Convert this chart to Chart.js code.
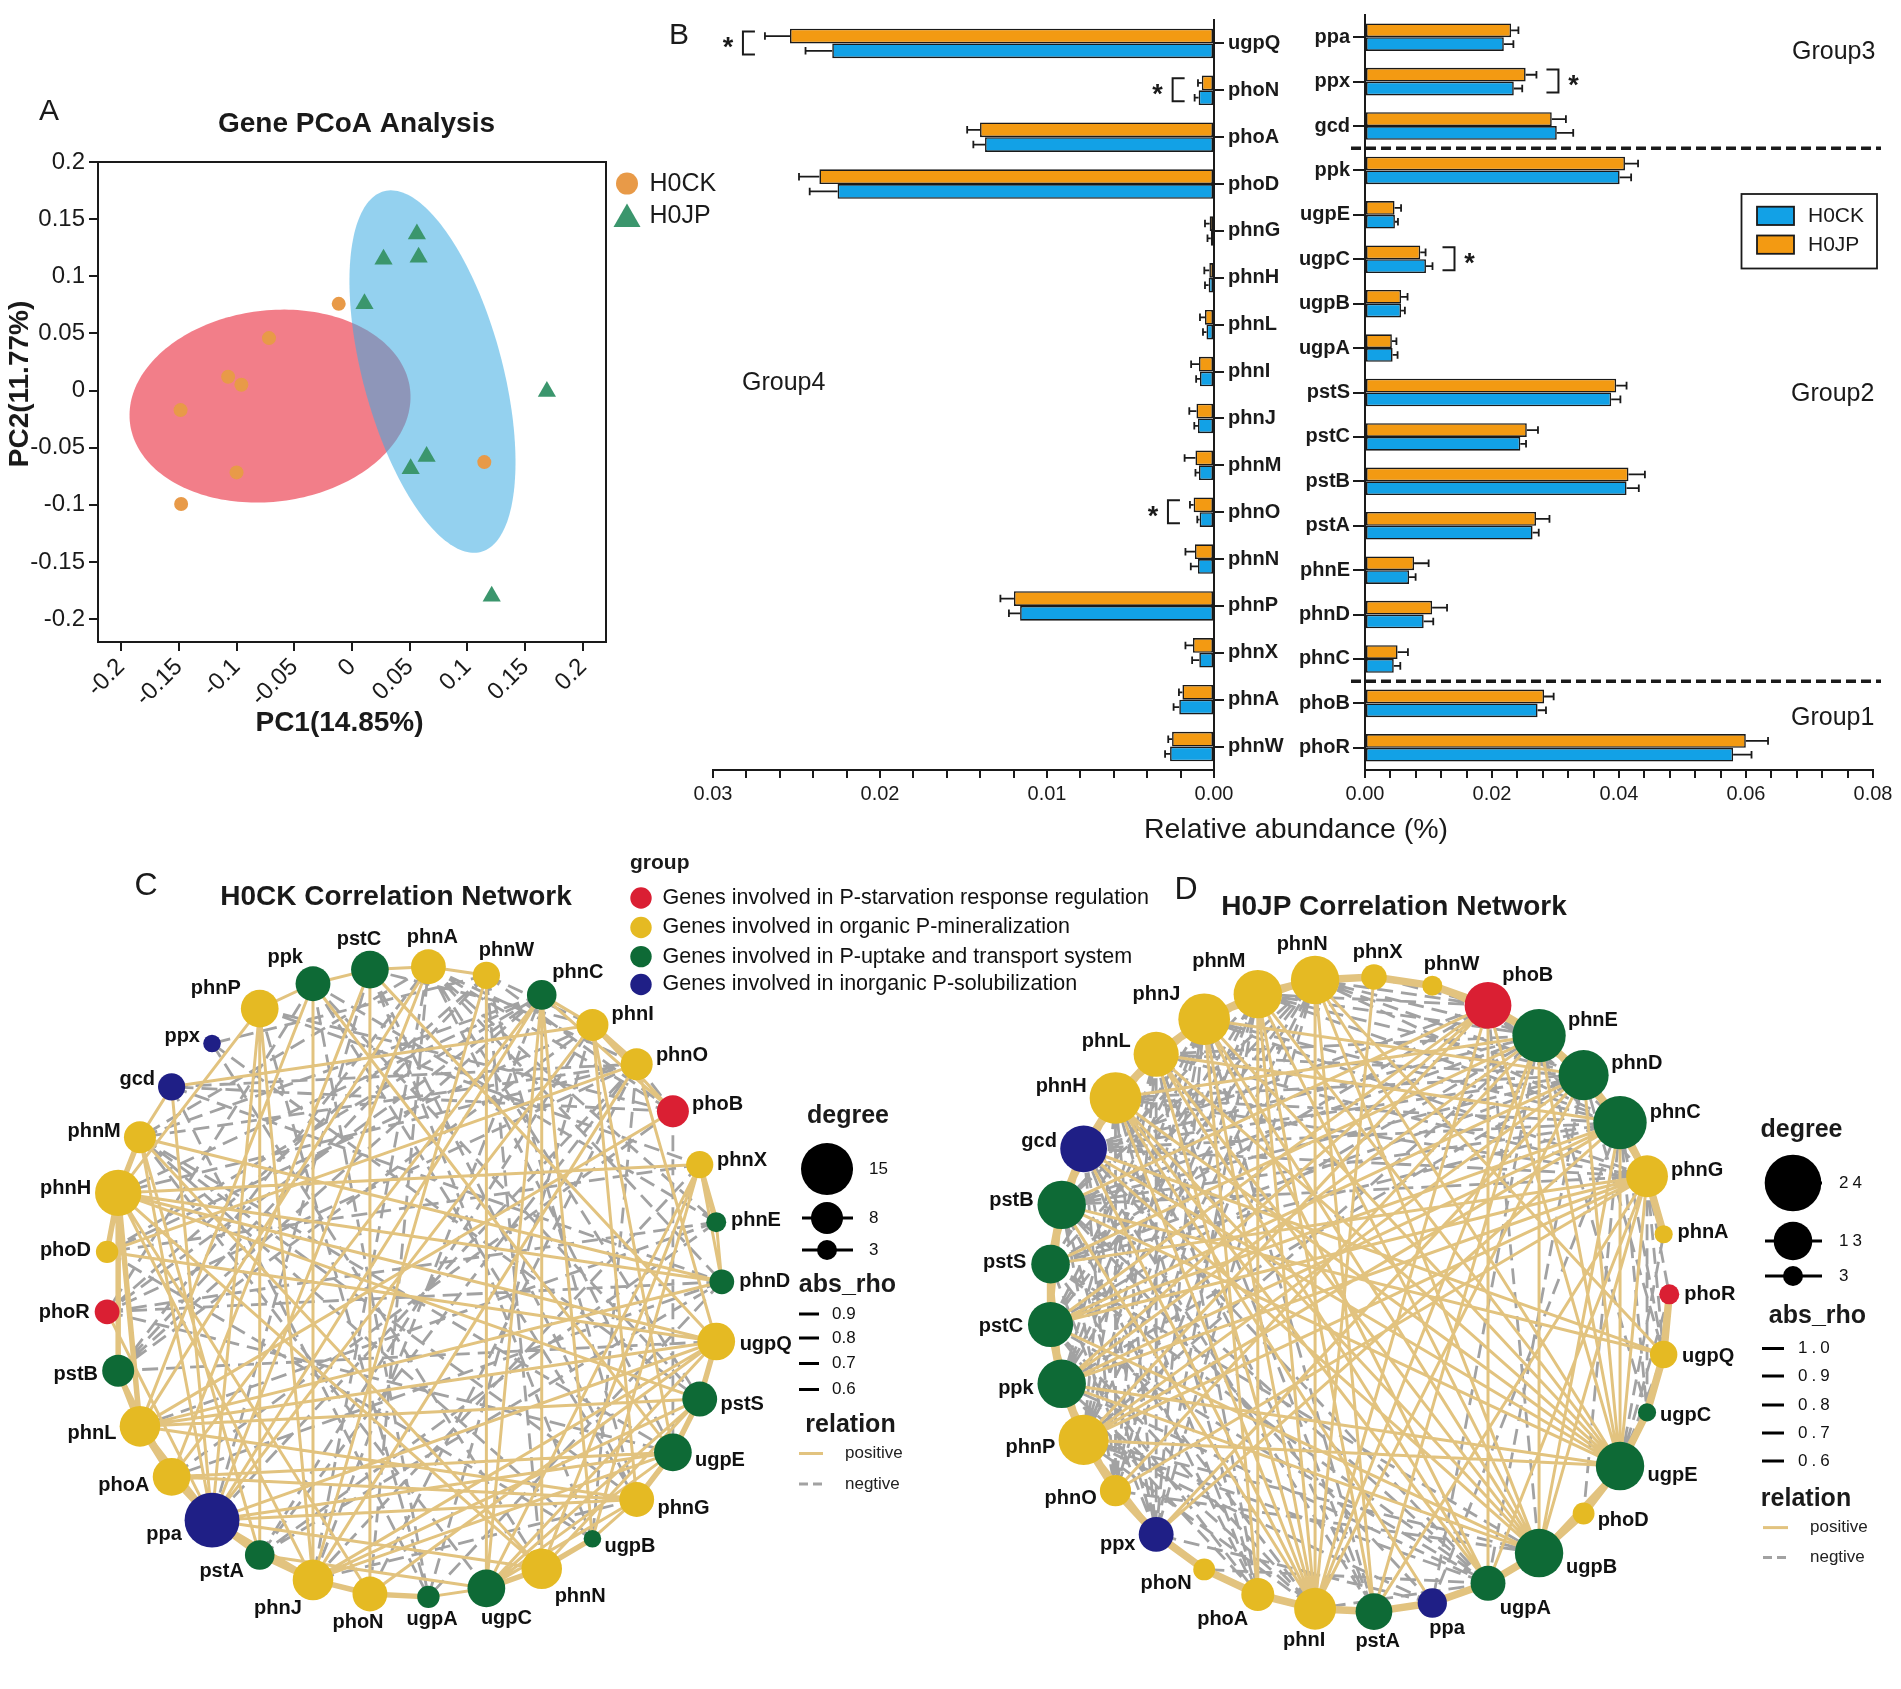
<!DOCTYPE html>
<html><head><meta charset="utf-8">
<script src="https://cdn.jsdelivr.net/npm/chart.js@4.4.1/dist/chart.umd.min.js"></script>
<style>
html,body{margin:0;padding:0;background:#fff;}
#wrap{position:relative;width:1901px;height:1689px;overflow:hidden;background:#fff;}
.layer{position:absolute;left:0;top:0;width:1901px;height:1689px;}
canvas{display:block;}
</style></head><body><div id="wrap">
<div class="layer"><canvas id="cA" width="1901" height="1689"></canvas></div>
<div class="layer"><canvas id="cBL" width="1901" height="1689"></canvas></div>
<div class="layer"><canvas id="cBR" width="1901" height="1689"></canvas></div>
<div class="layer"><canvas id="cC" width="1901" height="1689"></canvas></div>
<div class="layer"><canvas id="cD" width="1901" height="1689"></canvas></div>
</div>
<script>
// ================= DATA =================
// Panel A: PCoA
const pcoaGroups = ['H0CK', 'H0JP'];
const pcoaCkX = [-0.0115, -0.0719, -0.1073, -0.0958, -0.1485, -0.1000, -0.1480, 0.1146];
const pcoaCkY = [0.0759, 0.0459, 0.0121, 0.0051, -0.0171, -0.0716, -0.0992, -0.0626];
const pcoaJpX = [0.0562, 0.0273, 0.0577, 0.0108, 0.1688, 0.0646, 0.0508, 0.1210];
const pcoaJpY = [0.1370, 0.1150, 0.1167, 0.0759, -0.0008, -0.0576, -0.0685, -0.1800];
const pcoaTickValues = [-0.2, -0.15, -0.1, -0.05, 0, 0.05, 0.1, 0.15, 0.2];
const pcoaTickLabels = ['-0.2', '-0.15', '-0.1', '-0.05', '0', '0.05', '0.1', '0.15', '0.2'];
const ellipseCenterX = [-0.0710, 0.0697];
const ellipseCenterY = [-0.0136, 0.0166];
const ellipseSemiMajor = [0.1222, 0.1633];
const ellipseSemiMinor = [0.0837, 0.0605];
const ellipseAngleDeg = [7.15, 104.85];

// Panel B: relative abundance (%)
const leftGenes = ['ugpQ','phoN','phoA','phoD','phnG','phnH','phnL','phnI','phnJ','phnM','phnO','phnN','phnP','phnX','phnA','phnW'];
const leftCK    = [0.02286,0.00092,0.01371,0.02254,0.00019,0.00032,0.00045,0.00084,0.00096,0.00090,0.00086,0.00096,0.01161,0.00088,0.00208,0.00263];
const leftCKerr = [0.00160,0.00024,0.00070,0.00167,0.00020,0.00022,0.00021,0.00023,0.00022,0.00021,0.00014,0.00043,0.00067,0.00043,0.00034,0.00030];
const leftJP    = [0.02539,0.00073,0.01401,0.02363,0.00026,0.00028,0.00054,0.00090,0.00105,0.00111,0.00122,0.00114,0.01198,0.00126,0.00189,0.00251];
const leftJPerr = [0.00150,0.00023,0.00077,0.00122,0.00028,0.00030,0.00030,0.00047,0.00043,0.00065,0.00022,0.00057,0.00081,0.00045,0.00021,0.00023];
const rightGenes = ['ppa','ppx','gcd','ppk','ugpE','ugpC','ugpB','ugpA','pstS','pstC','pstB','pstA','phnE','phnD','phnC','phoB','phoR'];
const rightCK    = [0.02186,0.02343,0.03020,0.04010,0.00471,0.00960,0.00568,0.00435,0.03877,0.02446,0.04119,0.02639,0.00694,0.00924,0.00453,0.02718,0.05797];
const rightCKerr = [0.00151,0.00133,0.00259,0.00181,0.00048,0.00103,0.00060,0.00078,0.00145,0.00090,0.00193,0.00097,0.00103,0.00151,0.00103,0.00132,0.00290];
const rightJP    = [0.02301,0.02530,0.02941,0.04094,0.00465,0.00870,0.00568,0.00423,0.03956,0.02548,0.04149,0.02693,0.00773,0.01057,0.00513,0.02820,0.05997];
const rightJPerr = [0.00115,0.00170,0.00223,0.00206,0.00103,0.00084,0.00102,0.00072,0.00163,0.00176,0.00259,0.00212,0.00229,0.00235,0.00163,0.00151,0.00350];
const leftSignificant = ['ugpQ','phoN','phnO'];
const rightSignificant = ['ppx','ugpC'];
const leftMajorTicks = [0, 0.01, 0.02, 0.03];
const leftTickLabels = ['0.00', '0.01', '0.02', '0.03'];
const rightMajorTicks = [0, 0.02, 0.04, 0.06, 0.08];
const rightTickLabels = ['0.00', '0.02', '0.04', '0.06', '0.08'];
const groupBoundaryAfter = ['gcd', 'phnC'];
const barGroupNames = ['Group1', 'Group2', 'Group3', 'Group4'];

// Panels C, D: correlation networks
const groupNames = ['Genes involved in P-starvation response regulation','Genes involved in organic P-mineralization','Genes involved in P-uptake and transport system','Genes involved in inorganic P-solubilization'];
const groupRegulation = ['phoB','phoR'];
const groupOrganic = ['phnA','phnG','phnH','phnI','phnJ','phnL','phnM','phnN','phnO','phnP','phnW','phnX','phoA','phoD','phoN','ugpQ'];
const groupTransport = ['pstA','pstB','pstC','pstS','ugpA','ugpB','ugpC','ugpE','phnC','phnD','phnE','ppk'];
const groupInorganic = ['ppa','ppx','gcd'];

const cNodes  = ['phnD','phnE','phnX','phoB','phnO','phnI','phnC','phnW','phnA','pstC','ppk','phnP','ppx','gcd','phnM','phnH','phoD','phoR','pstB','phnL','phoA','ppa','pstA','phnJ','phoN','ugpA','ugpC','phnN','ugpB','phnG','ugpE','pstS','ugpQ'];
const cDegree = [5,3,6,8,8,8,7,6,9,10,9,10,2,6,8,13,4,5,8,11,10,16,7,11,9,4,10,11,2,9,10,9,10];
const cEdgesStrong = ['phnM-phnH','phnH-phoD','pstB-phnL','phnL-phoA','phoA-ppa','ppa-pstA','pstA-phnJ','phnJ-phoN','phoN-ugpA','ugpC-phnN','phnN-ugpB','phnG-ugpE','ugpE-pstS','pstS-ugpQ','phnI-phnO','phnH-phnL','phnL-ppa','ppa-phnJ','phnX-phnE','phnH-pstB'];
const cEdgesPositive = ['phnE-phnD','ppk-pstC','pstC-phnA','phnA-phnW','phnC-phnI','phnP-ppk','gcd-phnM','ugpA-ugpC','ugpB-phnG','phnP-ppa','phnP-pstA','phnP-phnJ','phnP-phnH','ppk-phnJ','ppk-phnL','ppk-ugpE','pstC-phoN','pstC-phoA','pstC-ugpQ','phnA-phnL','phnA-ppa','phnW-ugpC','gcd-phnI','gcd-ppa','phnM-ppa','phnM-pstA','phnM-phnN','phnM-phnD','phnH-ugpQ','phnH-pstS','phnH-phnJ','phnH-phnN','phnH-phnX','phnH-phoN','phoD-ugpQ','phoD-phnO','phoR-ppa','pstB-phoA','phnL-ugpQ','phnL-pstS','phnL-phnG','phnL-phnD','phoA-ugpE','phoA-phnG','phoA-phnC','ppa-ugpE','ppa-phnG','ppa-ugpQ','ppa-phnN','ppa-phnI','ppa-phnC','pstA-ugpC','phnJ-ugpE','phnJ-pstS','phnJ-phnW','phoN-ugpQ','phnC-ugpC','phnC-phnN','phnC-ugpB','phnC-phoB','phnI-phnG','phnI-ugpE','phnI-phoB','phnO-phnJ','phnO-ugpQ','phoB-phnL','phnX-phnN','phnX-ugpC','phnX-ugpB','phnX-phnD','phnD-phnH','ugpQ-phnJ','pstS-phnN','ugpE-ugpC','phnG-ugpC','ugpQ-ugpC','pstS-ugpC'];
const cEdgesNegative = ['phnA-phnO','phnA-phoB','phnA-ugpE','phnA-pstS','phnA-phnE','phnA-phnD','phnA-phnM','phnA-phnJ','phnW-phoR','phnW-phnG','phnW-pstB','phnW-phoB','phnW-phnI','phnO-phoB','phnO-ppa','phnO-phnH','phnO-phoR','phnO-phnM','phnO-ugpB','phoB-ugpE','phoB-gcd','phoB-phoA','phnI-phoD','phnI-pstB','phnI-pstC','ppx-phnN','ppx-pstS','gcd-phnD','gcd-phnO','gcd-ugpA','phnM-phnG','phoD-ugpB','phoD-phnC','phoR-phnE','phoR-phnD','phoR-ugpE','pstB-phnA','pstB-ugpQ','pstC-ugpB','pstC-phnG','pstC-ppa','ppk-phoR','ppk-phnG','ppk-ugpA','phnP-phoB','phnP-phnX','phnP-ugpA','phnC-phnH','phnC-phoR','phnC-phnM','phnE-phnL','phnE-pstA','phnD-phoA','phnD-ugpA','phnX-phnJ','phnX-phoD','pstS-ppk','ugpE-phnM','phnG-phnJ','phoN-phnO','phoN-phnA','ugpA-phnI','phnN-phnW','ugpC-phnM','pstA-phnI','pstA-phnD','phnJ-phnC','ugpB-phnM','phnW-ppx','phnC-pstB','phnO-pstA','phnE-ppk'];

const dNodes  = ['phoR','phnA','phnG','phnC','phnD','phnE','phoB','phnW','phnX','phnN','phnM','phnJ','phnL','phnH','gcd','pstB','pstS','pstC','ppk','phnP','phnO','ppx','phoN','phoA','phnI','pstA','ppa','ugpA','ugpB','phoD','ugpE','ugpC','ugpQ'];
const dDegree = [3,2,15,22,20,22,18,3,6,19,19,21,17,21,18,19,13,17,19,20,9,11,4,10,15,12,8,11,19,4,19,2,7];
const dEdgesStrong = ['phnX-phnN','phnN-phnM','phnM-phnJ','phnJ-phnL','phnL-phnH','phnH-gcd','gcd-pstB','pstB-pstS','pstS-pstC','pstC-ppk','ppk-phnP','phnP-phnO','phnO-ppx','ppx-phoN','phoN-phoA','phoA-phnI','phnI-pstA','pstA-ppa','ppa-ugpA','ugpA-ugpB','ugpB-phoD','phoD-ugpE','ugpE-ugpC','phnG-phnC','phnC-phnD','phnD-phnE','phnE-phoB','phoB-phnW','phnW-phnX','phnA-phnG','ugpC-ugpQ','ugpQ-phoR'];
const dEdgesPositive = ['phnN-phnJ','phnM-phnL','phnJ-phnH','phnL-gcd','phnH-pstB','gcd-pstS','pstB-pstC','pstS-ppk','pstC-phnP','ppk-phnO','phnP-ppx','ugpE-ugpB','ugpB-ugpA','phnC-phnE','phnD-phoB','phnE-phnW','phnG-phnD','phnI-phnN','phnI-phnM','phnI-phnJ','phnI-phnL','phnI-phnH','phnI-gcd','phnI-phoB','phnI-phnE','phnI-phnD','phnI-phnX','phnI-pstB','ugpE-phnJ','ugpE-phnL','ugpE-phnH','ugpE-phnM','ugpE-phnN','ugpE-gcd','ugpE-pstB','ugpE-phnC','ugpE-phnD','ugpE-phnE','ugpE-phoB','ugpE-phnG','ugpE-ppk','ugpE-phnP','ugpB-phnJ','ugpB-phnL','ugpB-phnH','ugpB-phnM','ugpB-phnN','ugpB-phnC','ugpB-phnE','ugpB-phnG','ugpB-gcd','ugpB-pstC','ugpB-ppk','phnG-phnP','phnG-ppk','phnG-pstC','phnG-pstS','phnG-phnO','phnG-ugpA','phnG-pstA','phnC-ppk','phnC-phnP','phnC-pstC','phnC-ppx','phnE-pstS','phnE-ppk','phnE-phnO','phnD-pstC','phnD-phnP','phnD-ppx','phnE-pstA','phoB-pstB','phoB-pstC','phoB-ppk','phoB-phnP','phoB-ugpA','phnN-pstA','phnM-pstA','phnJ-ugpA','phnL-ugpA','phnH-ppa','gcd-ugpQ','pstB-ugpQ','phnN-ugpQ','phnM-phoA','phnJ-phoA','phnH-ugpA','phnL-phnC','phnH-phnE','phnJ-phnD'];
const dEdgesNegative = ['gcd-phnC','gcd-phnD','gcd-phnE','gcd-phnG','gcd-phoB','gcd-ugpA','gcd-pstA','gcd-phoA','gcd-ppx','gcd-phnO','pstB-phnC','pstB-phnD','pstB-phnE','pstB-phnG','pstB-ugpA','pstB-phnN','pstB-phnM','pstB-ppa','pstB-phnO','pstS-phnC','pstS-phnD','pstS-phoB','pstS-phnN','pstS-phnJ','pstS-ugpA','pstS-phnI','pstC-phnE','pstC-phnN','pstC-phnM','pstC-phnJ','pstC-ugpA','pstC-phnI','pstC-phoA','ppk-phnD','ppk-phnN','ppk-phnM','ppk-phnJ','ppk-phnL','ppk-phnI','ppk-ugpA','phnP-phnE','phnP-phnN','phnP-phnM','phnP-phnJ','phnP-phnL','phnP-phnH','phnP-ugpA','phnP-phnI','phnH-phnC','phnH-phnD','phnH-phnG','phnH-phoA','phnH-ppx','phnH-phnO','phnH-pstA','phnL-phnD','phnL-phnG','phnL-phoA','phnL-ppx','phnL-phnO','phnL-pstA','phnL-phnE','phnJ-phnC','phnJ-phnG','phnJ-ppx','phnJ-phnO','phnJ-pstA','phnM-phnC','phnM-phnD','phnM-phnE','phnM-ppx','phnM-phnO','phnN-phnC','phnN-phnD','phnN-phnE','phnN-phnO','phnN-ppx','phoB-phnC','phoB-ugpB','phoB-phnN','phoB-phnM','phoB-phnX','phoB-phnG','phnC-ugpC','phnC-ugpQ','phnC-phoD','phnC-ppa','phnD-ugpQ','phnD-ugpA','phnE-ugpC','phnE-ppa','phnG-ugpQ','phnG-ugpC','phnG-phoR','ugpE-ugpQ','ugpE-phoR','ugpE-phnA','ugpB-pstS','ugpB-phnP','ugpB-phnO','ugpA-phnI','ugpA-phoN','ppa-phnP','ppa-ppx','phoA-ppk','phoA-pstB','ppx-pstS','ppx-pstB'];
const cDegreeLegend = [15, 8, 3];
const dDegreeLegend = [24, 13, 3];
const cRhoLegend = ['0.9', '0.8', '0.7', '0.6'];
const dRhoLegend = ['1.0', '0.9', '0.8', '0.7', '0.6'];
const relationLabels = ['positive', 'negtive'];

// ================= STYLE =================
const FF = '"Liberation Sans", Arial, Helvetica, sans-serif';
Chart.defaults.font.family = FF;
Chart.defaults.color = '#1a1a1a';
const INK = '#1a1a1a';
const W = 1901, H = 1689;
const ORANGE = '#F39A12', BLUE = '#12A1E6';
const POS = '#E2C37F', NEG = '#A2A2A2';
const groupColors = ['#DA1F33', '#E5BA23', '#0E6A36', '#1F1F86'];
const groupLists = [groupRegulation, groupOrganic, groupTransport, groupInorganic];
const baseOpts = {responsive:false, animation:false, devicePixelRatio:1, events:[], plugins:{legend:{display:false}, tooltip:{enabled:false}}};

function txt(ctx, s, x, y, font, align, base, color){
  ctx.font = font; ctx.textAlign = align || 'left'; ctx.textBaseline = base || 'middle';
  ctx.fillStyle = color || INK; ctx.fillText(s, x, y);
}
function labelFor(values, labels){
  return function(v){ const i = values.findIndex(t => Math.abs(t - v) < 1e-9); return i >= 0 ? labels[i] : ''; };
}

// ================= PANEL A =================
(function(){
  const pA = {
    id:'pA',
    beforeDatasetsDraw(chart){
      const ctx = chart.ctx, xs = chart.scales.x, ys = chart.scales.y;
      const fills = ['rgba(232,32,52,0.58)', 'rgba(60,172,226,0.55)'];
      ctx.save();
      for (let e = 0; e < ellipseCenterX.length; e++){
        const phi = ellipseAngleDeg[e] * Math.PI / 180;
        ctx.beginPath();
        for (let k = 0; k <= 200; k++){
          const t = k / 200 * 2 * Math.PI;
          const dx = ellipseSemiMajor[e] * Math.cos(t), dy = ellipseSemiMinor[e] * Math.sin(t);
          const X = ellipseCenterX[e] + dx * Math.cos(phi) - dy * Math.sin(phi);
          const Y = ellipseCenterY[e] + dx * Math.sin(phi) + dy * Math.cos(phi);
          const px = xs.getPixelForValue(X), py = ys.getPixelForValue(Y);
          if (k) ctx.lineTo(px, py); else ctx.moveTo(px, py);
        }
        ctx.closePath(); ctx.fillStyle = fills[e]; ctx.fill();
      }
      ctx.restore();
    },
    afterDraw(chart){
      const ctx = chart.ctx, a = chart.chartArea;
      ctx.save();
      ctx.strokeStyle = INK; ctx.lineWidth = 2;
      ctx.strokeRect(a.left, a.top, a.right - a.left, a.bottom - a.top);
      txt(ctx, 'A', 39, 112, '30px ' + FF, 'left');
      txt(ctx, 'Gene PCoA Analysis', 356.5, 124.6, 'bold 28px ' + FF, 'center');
      txt(ctx, 'PC1(14.85%)', 339.5, 723, 'bold 28px ' + FF, 'center');
      ctx.save(); ctx.translate(20, 384); ctx.rotate(-Math.PI / 2);
      txt(ctx, 'PC2(11.77%)', 0, 0, 'bold 28px ' + FF, 'center'); ctx.restore();
      // legend
      ctx.fillStyle = '#E89A48'; ctx.beginPath(); ctx.arc(627, 183.6, 11, 0, 2 * Math.PI); ctx.fill();
      ctx.fillStyle = '#3B966D'; ctx.beginPath(); ctx.moveTo(627, 203.5); ctx.lineTo(640.5, 227); ctx.lineTo(613.5, 227); ctx.closePath(); ctx.fill();
      txt(ctx, pcoaGroups[0], 649.5, 184, '25px ' + FF, 'left');
      txt(ctx, pcoaGroups[1], 649.5, 216, '25px ' + FF, 'left');
      ctx.restore();
    }
  };
  const fmt = labelFor(pcoaTickValues, pcoaTickLabels);
  const axisCommon = {
    type:'linear',
    afterBuildTicks: s => { s.ticks = pcoaTickValues.map(v => ({value:v})); },
    grid:{drawOnChartArea:false, drawTicks:true, tickLength:9, color:INK, lineWidth:2},
    border:{display:true, color:INK, width:2}
  };
  new Chart(document.getElementById('cA'), {
    type:'scatter',
    data:{datasets:[
      {label:pcoaGroups[0], data:pcoaCkX.map((v,i)=>({x:v, y:pcoaCkY[i]})), pointStyle:'circle', pointRadius:7, backgroundColor:'#E89A48', pointBackgroundColor:'#E89A48', borderWidth:0, pointBorderWidth:0},
      {label:pcoaGroups[1], data:pcoaJpX.map((v,i)=>({x:v, y:pcoaJpY[i]})), pointStyle:'triangle', pointRadius:10.5, backgroundColor:'#3B966D', pointBackgroundColor:'#3B966D', borderWidth:0, pointBorderWidth:0}
    ]},
    options:Object.assign({}, baseOpts, {
      layout:{padding:{left:0, top:162, right:W - 606, bottom:H - 642 - 75}},
      scales:{
        x:Object.assign({}, axisCommon, {min:-0.22, max:0.22, afterFit: s => { s.height = 75; },
          ticks:{font:{size:24}, color:INK, minRotation:45, maxRotation:45, padding:2, autoSkip:false, callback:fmt}}),
        y:Object.assign({}, axisCommon, {min:-0.22, max:0.2, afterFit: s => { s.width = 98; },
          ticks:{font:{size:24}, color:INK, padding:4, autoSkip:false, callback:fmt}})
      }
    }),
    plugins:[pA]
  });
})();

// ================= PANEL B =================
function barDecor(id, errs, sig, dir){
  return {
    id:id,
    afterDatasetsDraw(chart){
      const ctx = chart.ctx, xs = chart.scales.x;
      ctx.save(); ctx.strokeStyle = INK; ctx.lineWidth = 1.8;
      chart.data.datasets.forEach((ds, di) => {
        chart.getDatasetMeta(di).data.forEach((bar, i) => {
          const x1 = xs.getPixelForValue(ds.data[i] + errs[di][i]);
          ctx.beginPath(); ctx.moveTo(bar.x, bar.y); ctx.lineTo(x1, bar.y);
          ctx.moveTo(x1, bar.y - 3.8); ctx.lineTo(x1, bar.y + 3.8); ctx.stroke();
        });
      });
      const labels = chart.data.labels;
      sig.forEach(g => {
        const i = labels.indexOf(g); if (i < 0) return;
        let ext = dir < 0 ? Infinity : -Infinity;
        chart.data.datasets.forEach((ds, di) => {
          const p = xs.getPixelForValue(ds.data[i] + errs[di][i]);
          ext = dir < 0 ? Math.min(ext, p) : Math.max(ext, p);
        });
        const y0 = chart.getDatasetMeta(0).data[i].y, y1 = chart.getDatasetMeta(1).data[i].y;
        const yc = (y0 + y1) / 2, yt = yc - 12, yb = yc + 11;
        const xa = ext + dir * 10, xv = ext + dir * 22, xst = ext + dir * 37;
        ctx.lineWidth = 2; ctx.beginPath();
        ctx.moveTo(xa, yt); ctx.lineTo(xv, yt); ctx.lineTo(xv, yb); ctx.lineTo(xa, yb); ctx.stroke();
        txt(ctx, '*', xst, yc + 5, 'bold 27px ' + FF, 'center');
      });
      ctx.restore();
    }
  };
}
function barChart(id, genes, ck, jp, errCk, errJp, opts){
  const xAxis = {
    type:'linear', min:0, max:opts.max, reverse:opts.reverse,
    afterBuildTicks: s => { const t = []; for (let k = 0; k <= opts.minorCount; k++) t.push({value: k * opts.minorStep}); s.ticks = t; },
    afterFit: s => { s.height = 45; },
    ticks:{font:{size:20}, color:INK, padding:4, autoSkip:false, maxRotation:0, callback:labelFor(opts.majors, opts.majorLabels)},
    grid:{drawOnChartArea:false, drawTicks:true, tickLength:8, color:INK, lineWidth:2},
    border:{display:true, color:INK, width:2}
  };
  const yAxis = {
    type:'category', position:opts.yPos,
    afterFit: s => { s.width = opts.yWidth; },
    ticks:{font:{size:20, weight:'bold'}, color:INK, padding:opts.labelPad, autoSkip:false},
    grid:{offset:false, drawOnChartArea:false, drawTicks:true, tickLength:opts.tickLen, color:INK, lineWidth:2},
    border:{display:true, color:INK, width:2}
  };
  const dsCommon = {borderColor:INK, borderWidth:1.6, borderSkipped:false, barPercentage:1, categoryPercentage:opts.cat};
  return new Chart(document.getElementById(id), {
    type:'bar',
    data:{labels:genes, datasets:[
      Object.assign({label:'H0JP', data:jp, backgroundColor:ORANGE}, dsCommon),
      Object.assign({label:'H0CK', data:ck, backgroundColor:BLUE}, dsCommon)
    ]},
    options:Object.assign({}, baseOpts, {indexAxis:'y', layout:{padding:opts.padding}, scales:{x:xAxis, y:yAxis}}),
    plugins:opts.plugins
  });
}
(function(){
  const leftExtra = {
    id:'bl',
    afterDraw(chart){
      const ctx = chart.ctx, ys = chart.scales.y;
      ctx.save();
      txt(ctx, 'B', 669, 36, '30px ' + FF, 'left');
      const step = ys.getPixelForValue(1) - ys.getPixelForValue(0);
      txt(ctx, barGroupNames[3], 742, ys.getPixelForValue(0) + 7.25 * step, '25px ' + FF, 'left');
      ctx.restore();
    }
  };
  barChart('cBL', leftGenes, leftCK, leftJP, leftCKerr, leftJPerr, {
    max:0.03, reverse:true, minorStep:0.002, minorCount:15, majors:leftMajorTicks, majorLabels:leftTickLabels,
    yPos:'right', yWidth:100, labelPad:4, tickLen:10, cat:0.63,
    padding:{left:713, right:W - 1214 - 100, top:20, bottom:H - 770 - 45},
    plugins:[barDecor('blerr', [leftJPerr, leftCKerr], leftSignificant, -1), leftExtra]
  });
  const rightExtra = {
    id:'br',
    afterDraw(chart){
      const ctx = chart.ctx, ys = chart.scales.y, a = chart.chartArea;
      ctx.save();
      const step = ys.getPixelForValue(1) - ys.getPixelForValue(0);
      ctx.strokeStyle = INK; ctx.lineWidth = 3.5; ctx.setLineDash([10, 5]);
      groupBoundaryAfter.forEach(g => {
        const i = rightGenes.indexOf(g);
        const y = ys.getPixelForValue(i) + step / 2;
        ctx.beginPath(); ctx.moveTo(a.left - 14, y); ctx.lineTo(a.right + 8, y); ctx.stroke();
      });
      ctx.setLineDash([]);
      const y0 = ys.getPixelForValue(0);
      txt(ctx, barGroupNames[2], 1792, y0 + 0.34 * step, '25px ' + FF, 'left');
      txt(ctx, barGroupNames[1], 1791, y0 + 8.03 * step, '25px ' + FF, 'left');
      txt(ctx, barGroupNames[0], 1791, y0 + 15.33 * step, '25px ' + FF, 'left');
      // legend
      ctx.lineWidth = 1.8; ctx.strokeStyle = INK;
      ctx.strokeRect(1741.5, 194, 135.5, 74.5);
      ctx.fillStyle = BLUE; ctx.fillRect(1757, 206.7, 37, 18.3); ctx.strokeRect(1757, 206.7, 37, 18.3);
      ctx.fillStyle = ORANGE; ctx.fillRect(1757, 235.5, 37, 18.3); ctx.strokeRect(1757, 235.5, 37, 18.3);
      txt(ctx, 'H0CK', 1808, 216.5, '21px ' + FF, 'left');
      txt(ctx, 'H0JP', 1808, 245, '21px ' + FF, 'left');
      txt(ctx, 'Relative abundance (%)', 1296, 830, '28.5px ' + FF, 'center');
      ctx.restore();
    }
  };
  barChart('cBR', rightGenes, rightCK, rightJP, rightCKerr, rightJPerr, {
    max:0.08, reverse:false, minorStep:0.004, minorCount:20, majors:rightMajorTicks, majorLabels:rightTickLabels,
    yPos:'left', yWidth:110, labelPad:3, tickLen:12, cat:0.62,
    padding:{left:1365 - 110, right:W - 1873, top:10, bottom:H - 770 - 45},
    plugins:[barDecor('brerr', [rightJPerr, rightCKerr], rightSignificant, 1), rightExtra]
  });
})();

// ================= PANELS C, D =================
function geneColor(g){
  for (let k = 0; k < groupLists.length; k++) if (groupLists[k].includes(g)) return groupColors[k];
  return '#888';
}
function sizeFromDegree(stops, d){
  let k = 0;
  while (k < stops.length - 2 && d > stops[k + 1][0]) k++;
  const [d0, r0] = stops[k], [d1, r1] = stops[k + 1];
  return r0 + (d - d0) * (r1 - r0) / (d1 - d0);
}
function makeNetwork(cfg){
  const n = cfg.nodes.length, L = cfg.layout;
  const thetas = cfg.nodes.map((_, i) => i * 2 * Math.PI / n);
  const pts = thetas.map(t => ({x: L.cx + L.rx * Math.cos(t), y: L.cy - L.ry * Math.sin(t)}));
  const idx = {}; cfg.nodes.forEach((g, i) => idx[g] = i);
  const radii = cfg.degree.map(d => sizeFromDegree(cfg.sizeStops, d));
  const colors = cfg.nodes.map(geneColor);
  function edgeData(list){
    const out = [];
    list.forEach(e => {
      const [a, b] = e.split('-'); const i = idx[a], j = idx[b];
      if (i === undefined || j === undefined) return;
      out.push({x:pts[i].x, y:pts[i].y}, {x:pts[j].x, y:pts[j].y}, {x:null, y:null});
    });
    return out;
  }
  const lineCommon = {type:'line', pointRadius:0, pointHoverRadius:0, fill:false, tension:0, spanGaps:false, borderCapStyle:'butt'};
  const plug = {
    id:'net' + cfg.id,
    afterDatasetsDraw(chart){
      const ctx = chart.ctx, meta = chart.getDatasetMeta(0);
      ctx.save();
      ctx.font = 'bold 20px ' + FF; ctx.fillStyle = '#111'; ctx.textAlign = 'left'; ctx.textBaseline = 'middle';
      const hh = 8;
      cfg.nodes.forEach((g, i) => {
        const p = meta.data[i], r = radii[i], c = Math.cos(thetas[i]), s = Math.sin(thetas[i]);
        const w = ctx.measureText(g).width;
        const ax = p.x + c * (r + 5);
        const f = Math.min(1, Math.max(0, 0.5 - 1.2 * c));
        const wv = 0.5 + 0.5 * Math.min(1, Math.max(0, (Math.abs(s) - 0.82) / 0.08));
        let left = ax - f * w;
        let ly = p.y - s * (r + 10) * wv;
        const clear = r + 3;
        const gap = () => {
          const qx = Math.max(left, Math.min(p.x, left + w));
          const qy = Math.max(ly - hh, Math.min(p.y, ly + hh));
          return Math.hypot(qx - p.x, qy - p.y);
        };
        let guard = 0;
        while (gap() < clear && guard++ < 300){
          if (Math.abs(c) >= 0.3) left += (c >= 0 ? 0.5 : -0.5);
          else ly += (s >= 0 ? -0.5 : 0.5);
        }
        ctx.fillText(g, left, ly);
      });
      ctx.restore();
    },
    afterDraw(chart){
      const ctx = chart.ctx, Lg = cfg.legend;
      ctx.save();
      txt(ctx, cfg.letter, cfg.letterPos[0], cfg.letterPos[1], '32px ' + FF, 'center');
      txt(ctx, cfg.title, cfg.titlePos[0], cfg.titlePos[1], 'bold 28px ' + FF, 'center');
      if (cfg.groupLegend){
        const G = cfg.groupLegend;
        txt(ctx, 'group', G.x, G.titleY, 'bold 21px ' + FF, 'left');
        groupNames.forEach((name, k) => {
          ctx.fillStyle = groupColors[k]; ctx.beginPath(); ctx.arc(G.cx, G.ys[k], 10.7, 0, 2 * Math.PI); ctx.fill();
          txt(ctx, name, G.tx, G.ys[k], '21.5px ' + FF, 'left', 'middle', '#111');
        });
      }
      txt(ctx, 'degree', Lg.degTitle[0], Lg.degTitle[1], 'bold 25px ' + FF, 'center');
      Lg.degValues.forEach((d, k) => {
        const y = Lg.degYs[k];
        ctx.strokeStyle = '#000'; ctx.lineWidth = 3; ctx.beginPath(); ctx.moveTo(Lg.lineX[0], y); ctx.lineTo(Lg.lineX[1], y); ctx.stroke();
        ctx.fillStyle = '#000'; ctx.beginPath(); ctx.arc(Lg.degX, y, sizeFromDegree(cfg.sizeStops, d), 0, 2 * Math.PI); ctx.fill();
        ctx.letterSpacing = Lg.spacing;
        txt(ctx, String(d), Lg.degLabelX, y, '17px ' + FF, 'left', 'middle', '#111');
        ctx.letterSpacing = '0px';
      });
      txt(ctx, 'abs_rho', Lg.rhoTitle[0], Lg.rhoTitle[1], 'bold 25px ' + FF, 'center');
      Lg.rhoValues.forEach((v, k) => {
        const y = Lg.rhoYs[k];
        ctx.strokeStyle = '#000'; ctx.lineWidth = 3; ctx.beginPath(); ctx.moveTo(Lg.rhoX[0], y); ctx.lineTo(Lg.rhoX[1], y); ctx.stroke();
        ctx.letterSpacing = Lg.spacing;
        txt(ctx, v, Lg.rhoX[2], y, '17px ' + FF, 'left', 'middle', '#111');
        ctx.letterSpacing = '0px';
      });
      txt(ctx, 'relation', Lg.relTitle[0], Lg.relTitle[1], 'bold 25px ' + FF, 'center');
      relationLabels.forEach((v, k) => {
        const y = Lg.relYs[k];
        ctx.strokeStyle = k === 0 ? POS : NEG; ctx.lineWidth = 3;
        ctx.setLineDash(k === 0 ? [] : [9, 5]);
        ctx.beginPath(); ctx.moveTo(Lg.relX[0], y); ctx.lineTo(Lg.relX[1], y); ctx.stroke();
        ctx.setLineDash([]);
        txt(ctx, v, Lg.relX[2], y, '17px ' + FF, 'left', 'middle', '#222');
      });
      ctx.restore();
    }
  };
  new Chart(document.getElementById(cfg.canvas), {
    type:'scatter',
    data:{datasets:[
      {type:'scatter', label:'nodes', data:pts.map(p => ({x:p.x, y:p.y})), pointRadius:radii, pointHoverRadius:radii,
       backgroundColor:colors, pointBackgroundColor:colors, pointBorderWidth:0, borderWidth:0, order:0},
      Object.assign({label:'strong', data:edgeData(cfg.strong), borderColor:POS, borderWidth:cfg.strongWidth, order:1}, lineCommon),
      Object.assign({label:'positive', data:edgeData(cfg.positive), borderColor:POS, borderWidth:3, order:2}, lineCommon),
      Object.assign({label:'negative', data:edgeData(cfg.negative), borderColor:NEG, borderWidth:2.8, borderDash:[16, 8], order:3}, lineCommon)
    ]},
    options:Object.assign({}, baseOpts, {
      layout:{padding:0},
      scales:{x:{type:'linear', display:false, min:0, max:W}, y:{type:'linear', display:false, min:0, max:H, reverse:true}}
    }),
    plugins:[plug]
  });
}
makeNetwork({
  id:'C', canvas:'cC', nodes:cNodes, degree:cDegree, strong:cEdgesStrong, positive:cEdgesPositive, negative:cEdgesNegative,
  layout:{cx:397.8, cy:1296.5, rx:317.2, ry:326}, sizeStops:[[3, 10], [8, 16], [15, 26]], strongWidth:5.5,
  letter:'C', letterPos:[146, 886], title:'H0CK Correlation Network', titlePos:[396, 897],
  groupLegend:{x:630, titleY:863, cx:641, tx:662.5, ys:[898, 927.5, 956.6, 984.5]},
  legend:{degTitle:[848, 1116], degValues:cDegreeLegend, degYs:[1169, 1218, 1250], degX:827, lineX:[802, 853], degLabelX:869, spacing:'0px',
          rhoTitle:[847.5, 1285], rhoValues:cRhoLegend, rhoYs:[1314, 1338, 1363.5, 1389.5], rhoX:[799, 819, 832],
          relTitle:[850.5, 1425], relYs:[1453.5, 1484], relX:[799, 823, 845]}
});
makeNetwork({
  id:'D', canvas:'cD', nodes:dNodes, degree:dDegree, strong:dEdgesStrong, positive:dEdgesPositive, negative:dEdgesNegative,
  layout:{cx:1371, cy:1309, rx:319, ry:328}, sizeStops:[[3, 10], [13, 19.3], [24, 28.3]], strongWidth:7.5,
  letter:'D', letterPos:[1186, 890], title:'H0JP Correlation Network', titlePos:[1394, 907],
  groupLegend:null,
  legend:{degTitle:[1801.5, 1130], degValues:dDegreeLegend, degYs:[1183, 1241, 1276], degX:1793, lineX:[1765, 1822], degLabelX:1839, spacing:'4px',
          rhoTitle:[1817.5, 1316], rhoValues:dRhoLegend, rhoYs:[1348.5, 1376, 1405, 1433, 1461], rhoX:[1762, 1784, 1798],
          relTitle:[1806, 1499], relYs:[1527.6, 1557.5], relX:[1763, 1788, 1810]}
});
</script></body></html>
